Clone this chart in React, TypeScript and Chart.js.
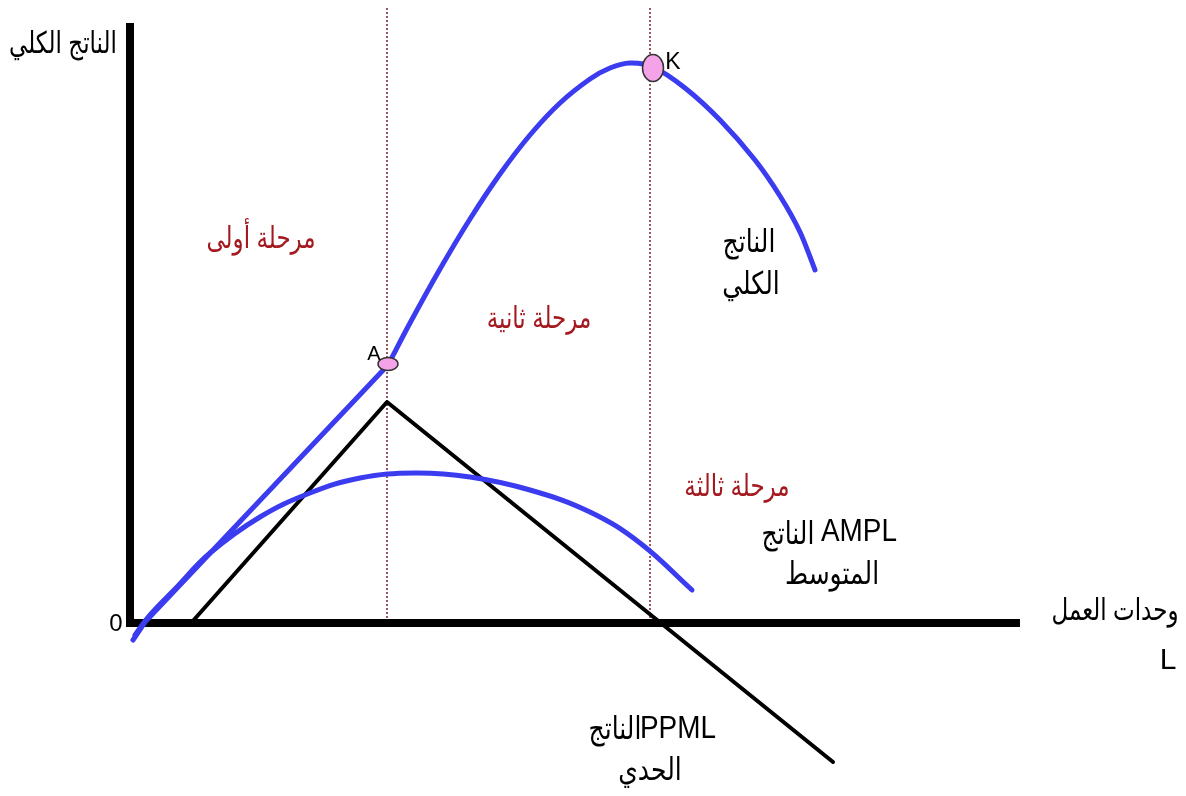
import React, { useEffect, useRef } from "react";
import { Chart, registerables } from "chart.js";
Chart.register(...registerables);

// Total product (TP): straight first stage up to point A
const tpLinLabour = [0.3, 1.5, 25.8];
const tpLinOutput = [-1.7, 0.1, 25.8];
// Total product (TP): curved part from A through K
const tpCurveLabour = [25.8, 28.0, 31.0, 34.0, 37.0, 40.0, 43.0, 46.0, 48.0, 50.0, 52.3, 55.5, 59.0, 62.5, 65.0, 67.0, 68.5];
const tpCurveOutput = [25.8, 30.0, 35.4, 40.4, 44.9, 48.8, 52.0, 54.4, 55.5, 56.0, 55.6, 53.5, 50.3, 46.3, 42.7, 39.1, 35.3];

// Average product (AP) curve
const apLabour = [0.5, 2.0, 4.5, 8.0, 13.0, 18.0, 23.0, 28.5, 34.0, 40.0, 46.0, 51.0, 56.2];
const apOutput = [-1.2, 0.8, 3.4, 7.0, 10.6, 13.0, 14.5, 15.0, 14.6, 13.3, 11.1, 8.0, 3.3];

// Marginal product (MP) line
const mpLabour = [6.2, 25.7, 70.3];
const mpOutput = [0.1, 22.1, -13.9];

// Stage boundaries (labour units)
const stageBounds = [25.7, 52.0];
const stageTop = 61.5;

// Axes extents
const axisYTop = 60.0;
const axisXEnd = 89.0;

// Marked points A and K
const markNames = ["A", "K"];
const markLabour = [25.8, 52.3];
const markOutput = [25.9, 55.5];

// Text labels
const labelTexts = [
  "الناتج الكلي", "0", "وحدات العمل", "L",
  "مرحلة أولى", "مرحلة ثانية", "مرحلة ثالثة",
  "الناتج", "الكلي",
  "الناتج", "AMPL", "المتوسط",
  "الناتج", "PPML", "الحدي",
];
const labelX = [-6.7, -1.4, 98.5, 103.8, 13.1, 40.9, 60.7, 61.9, 62.1, 65.8, 72.9, 70.2, 48.5, 54.8, 52.0];
const labelY = [57.8, -0.1, 1.1, -3.8, 38.3, 30.3, 13.5, 38.0, 33.8, 8.8, 9.1, 4.8, -10.7, -10.6, -14.8];

const zip = (xs: number[], ys: number[]) => xs.map((x, i) => ({ x, y: ys[i] }));

const BLUE = "#3b3bf0";
const RED = "#a3191f";
const FONT = "'Liberation Sans', 'DejaVu Sans', sans-serif";

const labelStyle = (i: number) => {
  if (i >= 4 && i <= 6) return { size: 23, color: RED, sx: 1, sy: 1.3 };
  if (i === 1) return { size: 24, color: "#000", sx: 1, sy: 1 };
  if (i === 3) return { size: 30, color: "#000", sx: 1, sy: 1 };
  if (i === 10 || i === 13) return { size: 31, color: "#000", sx: 0.9, sy: 1 };
  if (i === 0 || i === 2) return { size: 23, color: "#000", sx: 1, sy: 1.3 };
  return { size: 25, color: "#000", sx: 1, sy: 1.25 };
};

const overlay = {
  id: "overlay",
  afterDatasetsDraw(chart: any) {
    const ctx = chart.ctx as CanvasRenderingContext2D;
    const xs = chart.scales.x;
    const ys = chart.scales.y;
    ctx.save();
    // markers
    markNames.forEach((name, i) => {
      const px = xs.getPixelForValue(markLabour[i]);
      const py = ys.getPixelForValue(markOutput[i]);
      const rx = name === "A" ? 10 : 10.5;
      const ry = name === "A" ? 6.5 : 13.5;
      ctx.beginPath();
      ctx.ellipse(px, py, rx, ry, 0, 0, Math.PI * 2);
      ctx.fillStyle = "#f5a3e8";
      ctx.fill();
      ctx.lineWidth = 1.5;
      ctx.strokeStyle = "#333";
      ctx.stroke();
      ctx.fillStyle = "#000";
      ctx.font = `${name === "A" ? 20 : 23}px 'Liberation Sans', sans-serif`;
      ctx.textAlign = "center";
      ctx.textBaseline = "middle";
      if (name === "A") ctx.fillText(name, px - 14, py - 10);
      else ctx.fillText(name, px + 20, py - 5);
    });
    // labels
    labelTexts.forEach((t, i) => {
      const st = labelStyle(i);
      const px = xs.getPixelForValue(labelX[i]);
      const py = ys.getPixelForValue(labelY[i]);
      ctx.save();
      ctx.translate(px, py);
      ctx.scale(st.sx, st.sy);
      ctx.font = `${st.size}px ${FONT}`;
      ctx.fillStyle = st.color;
      ctx.textAlign = "center";
      ctx.textBaseline = "middle";
      ctx.fillText(t, 0, 0);
      ctx.restore();
    });
    ctx.restore();
  },
};

export default function App() {
  const ref = useRef<HTMLCanvasElement | null>(null);
  useEffect(() => {
    if (!ref.current) return;
    const line = (data: any[], color: string, width: number, order: number, tension: number) => ({
      data,
      showLine: true,
      borderColor: color,
      borderWidth: width,
      pointRadius: 0,
      tension,
      borderCapStyle: "round",
      borderJoinStyle: "round",
      order,
    });
    const chart = new Chart(ref.current, {
      type: "scatter",
      data: {
        datasets: [
          { label: "TP1", ...line(zip(tpLinLabour, tpLinOutput), BLUE, 5, 1, 0) },
          { label: "TP2", ...line(zip(tpCurveLabour, tpCurveOutput), BLUE, 5, 1, 0.3) },
          { label: "AP", ...line(zip(apLabour, apOutput), BLUE, 5, 2, 0.4) },
          { label: "MP", ...line(zip(mpLabour, mpOutput), "#000", 4, 3, 0) },
          ...stageBounds.map((b) => ({
            label: "stage",
            data: [{ x: b, y: stageTop }, { x: b, y: 0 }],
            showLine: true,
            borderColor: "#7a1f2b",
            borderWidth: 1.5,
            borderDash: [2, 2],
            pointRadius: 0,
            order: 5,
          })),
          {
            label: "axisY",
            data: [{ x: 0, y: axisYTop }, { x: 0, y: -0.4 }],
            showLine: true,
            borderColor: "#000",
            borderWidth: 8,
            borderCapStyle: "butt",
            pointRadius: 0,
            order: 4,
          },
          {
            label: "axisX",
            data: [{ x: -0.4, y: 0 }, { x: axisXEnd, y: 0 }],
            showLine: true,
            borderColor: "#000",
            borderWidth: 8,
            borderCapStyle: "butt",
            pointRadius: 0,
            order: 4,
          },
        ] as any,
      },
      options: {
        animation: false,
        responsive: false,
        layout: { padding: 0 },
        plugins: { legend: { display: false }, tooltip: { enabled: false } },
        scales: {
          x: { type: "linear", min: -13, max: 105.6, display: false },
          y: { type: "linear", min: -17.3, max: 62.3, display: false },
        },
      },
      plugins: [overlay],
    });
    return () => chart.destroy();
  }, []);
  return (
    <div style={{ position: "fixed", left: 0, top: 0, width: 1186, height: 796, background: "#fff" }}>
      <canvas ref={ref} width={1186} height={796} style={{ display: "block" }} />
    </div>
  );
}
